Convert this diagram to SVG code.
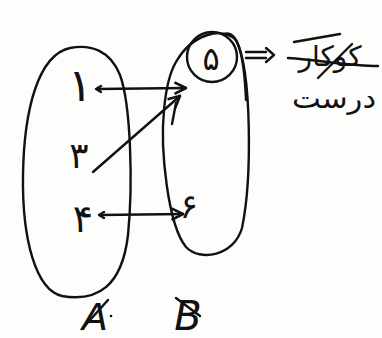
<svg xmlns="http://www.w3.org/2000/svg" width="382" height="338" viewBox="0 0 382 338">
<style>
.s{fill:none;stroke:#111;stroke-width:2.4;stroke-linecap:round;stroke-linejoin:round}
.t{font-family:"DejaVu Sans","Noto Sans",sans-serif;fill:#111}
</style>
<defs>
<marker id="ah" viewBox="0 0 10 10" refX="9" refY="5" markerWidth="6" markerHeight="6" orient="auto">
<path d="M1 1 L9 5 L1 9" fill="none" stroke="#111" stroke-width="1.8"/>
</marker>
</defs>
<rect width="382" height="338" fill="#fdfdfb"/>
<g id="setA">
<path class="s" d="M70 48 C38 55 24 110 23 175 C22 240 36 290 62 296 C98 302 122 286 128 235 C133 185 131 105 120 75 C110 50 90 44 70 48 Z"/>
<text class="t" x="80" y="101" font-size="46" text-anchor="middle">۱</text>
<text class="t" x="79" y="168" font-size="36" text-anchor="middle">۳</text>
<text class="t" x="83" y="232" font-size="38" text-anchor="middle">۴</text>
<text class="t" x="95" y="330" font-size="38" font-style="italic" text-anchor="middle" font-family="Liberation Serif,serif">A</text>
<path class="s" d="M82 329 L108 300"/>
<circle cx="111" cy="316" r="1.3" fill="#111"/>
</g>
<g id="setB">
<path class="s" d="M176 62 C192 34 222 26 236 40 C252 70 252 180 242 228 C234 256 200 262 186 247 C168 225 160 150 164 110 C166 88 170 72 176 62 Z"/>
<path class="s" d="M224 34 C238 30 244 55 246 100"/>
<circle class="s" cx="212" cy="57" r="25"/>
<text class="t" x="211" y="70" font-size="32" text-anchor="middle">۵</text>
<text class="t" x="189" y="218" font-size="34" text-anchor="middle">۶</text>
<text class="t" x="188" y="330" font-size="40" font-style="italic" text-anchor="middle" font-family="Liberation Serif,serif">B</text>
<path class="s" d="M176 298 L200 316"/>
</g>
<g id="label">
<path class="s" d="M246 52 L266 52 M246 58 L266 58 M266 48 L274 55 L266 62"/>
<text class="t" x="330" y="66" font-size="28" text-anchor="middle">کوکار</text>
<path class="s" d="M288 58 C320 60 350 66 378 66 M294 42 L340 34 M318 78 L352 44"/>
<text class="t" x="334" y="108" font-size="28" text-anchor="middle" textLength="84" lengthAdjust="spacingAndGlyphs">درست</text>
</g>
<g id="connectors">
<path class="s" d="M97 89 L186 88" marker-end="url(#ah)"/>
<path class="s" d="M101 86 L96 89 L101 92"/>
<path class="s" d="M93 172 L180 96" marker-end="url(#ah)"/>
<path class="s" d="M176 103 L172 124"/>
<path class="s" d="M100 215 L183 214" marker-end="url(#ah)"/>
<path class="s" d="M104 212 L99 215 L104 218"/>
</g>
</svg>
